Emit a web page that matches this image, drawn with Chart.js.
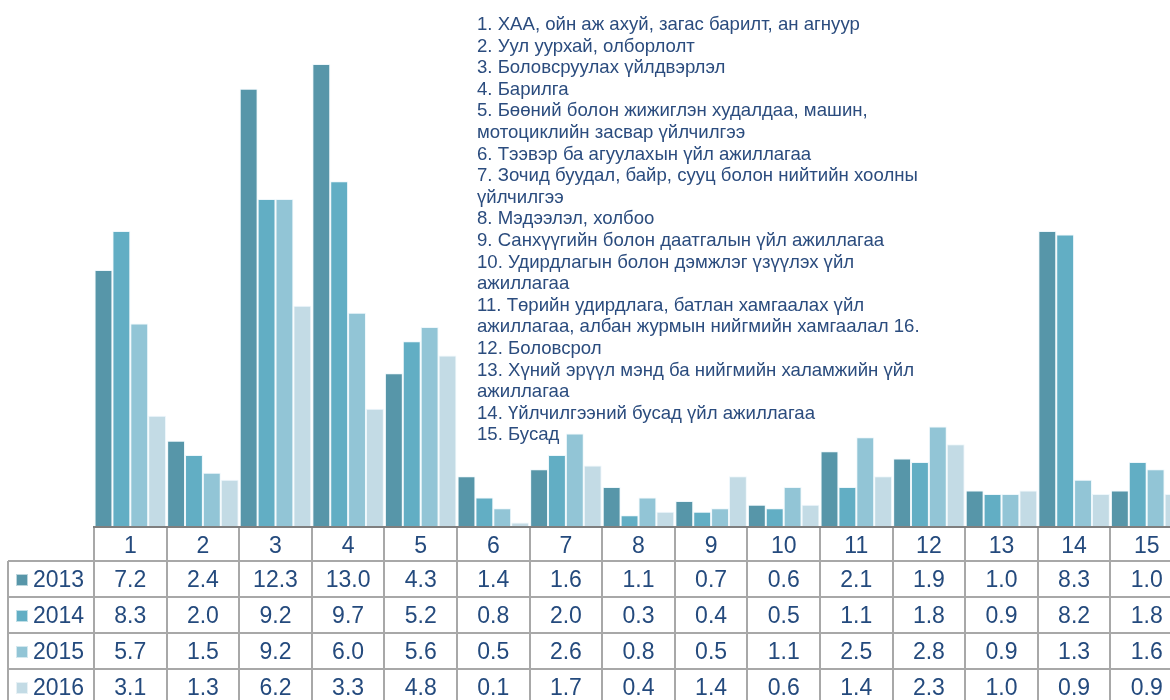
<!DOCTYPE html>
<html>
<head>
<meta charset="utf-8">
<script src="https://cdn.jsdelivr.net/npm/chart.js@4"></script>
<style>
    html, body { margin: 0; padding: 0; background: #fff; overflow: hidden; }
    #wrap { position: relative; width: 1183px; height: 700px; }
    #sectorList {
        position: absolute; left: 477px; top: 13px;
        font-family: "Liberation Sans", Arial, sans-serif;
        font-size: 18.6px; line-height: 21.6px; color: #2b4c7e;
        white-space: pre;
    }
</style>
</head>
<body>
<div id="wrap">
    <canvas id="chartSalbar" width="1183" height="700"></canvas>
    <div id="sectorList"></div>
</div>
<script>
// Ангилал (салбарын дугаар)
const categories = ['1', '2', '3', '4', '5', '6', '7', '8', '9', '10', '11', '12', '13', '14', '15'];
const years = ['2013', '2014', '2015', '2016'];

// Он тус бүрийн утга
const values2013 = [7.2, 2.4, 12.3, 13.0, 4.3, 1.4, 1.6, 1.1, 0.7, 0.6, 2.1, 1.9, 1.0, 8.3, 1.0];
const values2014 = [8.3, 2.0, 9.2, 9.7, 5.2, 0.8, 2.0, 0.3, 0.4, 0.5, 1.1, 1.8, 0.9, 8.2, 1.8];
const values2015 = [5.7, 1.5, 9.2, 6.0, 5.6, 0.5, 2.6, 0.8, 0.5, 1.1, 2.5, 2.8, 0.9, 1.3, 1.6];
const values2016 = [3.1, 1.3, 6.2, 3.3, 4.8, 0.1, 1.7, 0.4, 1.4, 0.6, 1.4, 2.3, 1.0, 0.9, 0.9];

// Салбарын нэрс
const sectorNames = [
    '1. ХАА, ойн аж ахуй, загас барилт, ан агнуур',
    '2. Уул уурхай, олборлолт',
    '3. Боловсруулах үйлдвэрлэл',
    '4. Барилга',
    '5. Бөөний болон жижиглэн худалдаа, машин,\nмотоциклийн засвар үйлчилгээ',
    '6. Тээвэр ба агуулахын үйл ажиллагаа',
    '7. Зочид буудал, байр, сууц болон нийтийн хоолны\nүйлчилгээ',
    '8. Мэдээлэл, холбоо',
    '9. Санхүүгийн болон даатгалын үйл ажиллагаа',
    '10. Удирдлагын болон дэмжлэг үзүүлэх үйл\nажиллагаа',
    '11. Төрийн удирдлага, батлан хамгаалах үйл\nажиллагаа, албан журмын нийгмийн хамгаалал 16.',
    '12. Боловсрол',
    '13. Хүний эрүүл мэнд ба нийгмийн халамжийн үйл\nажиллагаа',
    '14. Үйлчилгээний бусад үйл ажиллагаа',
    '15. Бусад'
];

const seriesValues = [values2013, values2014, values2015, values2016];
const seriesColors = ['#5796a9', '#62aec4', '#92c5d6', '#c3dbe5'];

document.getElementById('sectorList').textContent = sectorNames.join('\n');

// Доорх хүснэгтийг зурах plugin
const tablePlugin = {
    id: 'dataTable',
    afterDraw(chart) {
        const ctx = chart.ctx;
        const x = chart.scales.x;
        const area = chart.chartArea;
        const colW = (area.right - area.left) / categories.length;
        const base = area.bottom;
        const rowTop = [base + 35, base + 71, base + 107, base + 143];
        const rowH = 36;
        const textColor = '#244a7d';
        const gridColor = '#a8a8a8';

        ctx.save();
        // хүснэгтийн шугамууд
        ctx.strokeStyle = gridColor;
        ctx.lineWidth = 2;
        ctx.beginPath();
        for (let i = 0; i <= categories.length; i++) {
            const px = Math.round(area.left + i * colW);
            ctx.moveTo(px, base);
            ctx.lineTo(px, 700);
        }
        ctx.moveTo(8, rowTop[0]);
        ctx.lineTo(8, 700);
        rowTop.forEach(y => {
            ctx.moveTo(8, y);
            ctx.lineTo(area.right, y);
        });
        ctx.stroke();

        // суурь шугам
        ctx.strokeStyle = '#7f7f7f';
        ctx.lineWidth = 2;
        ctx.beginPath();
        ctx.moveTo(area.left - 1, base + 1);
        ctx.lineTo(area.right, base + 1);
        ctx.stroke();

        ctx.fillStyle = textColor;
        ctx.font = '23px "Liberation Sans", Arial, sans-serif';
        ctx.textAlign = 'center';
        ctx.textBaseline = 'middle';
        categories.forEach((c, i) => {
            ctx.fillText(c, x.getPixelForValue(i), base + 20.5);
        });

        seriesValues.forEach((vals, s) => {
            const cy = rowTop[s] + rowH / 2 + 2;
            vals.forEach((v, i) => {
                ctx.fillStyle = textColor;
                ctx.fillText(v.toFixed(1), x.getPixelForValue(i), cy);
            });
            // тайлбарын дөрвөлжин
            ctx.fillStyle = seriesColors[s];
            ctx.fillRect(16, cy - 7, 12, 12);
            ctx.strokeStyle = 'rgba(255,255,255,0.6)';
            ctx.lineWidth = 1;
            ctx.strokeRect(16.5, cy - 6.5, 11, 11);
            ctx.fillStyle = textColor;
            ctx.textAlign = 'left';
            ctx.fillText(years[s], 33, cy);
            ctx.textAlign = 'center';
        });
        ctx.restore();
    }
};

const ctx = document.getElementById('chartSalbar').getContext('2d');
const salbarChart = new Chart(ctx, {
    type: 'bar',
    data: {
        labels: categories,
        datasets: years.map((y, s) => ({
            label: y,
            data: seriesValues[s],
            backgroundColor: seriesColors[s],
            borderColor: 'rgba(235,246,250,0.85)',
            borderWidth: 1,
            categoryPercentage: 0.985,
            barPercentage: 1.0
        }))
    },
    options: {
        responsive: false,
        animation: false,
        plugins: {
            legend: { display: false },
            tooltip: { enabled: false }
        },
        layout: {
            padding: { left: 94, right: 0, top: 0, bottom: 174 }
        },
        scales: {
            x: { display: false },
            y: { display: false, min: 0, max: 14.8 }
        }
    },
    plugins: [tablePlugin]
});
</script>
</body>
</html>
